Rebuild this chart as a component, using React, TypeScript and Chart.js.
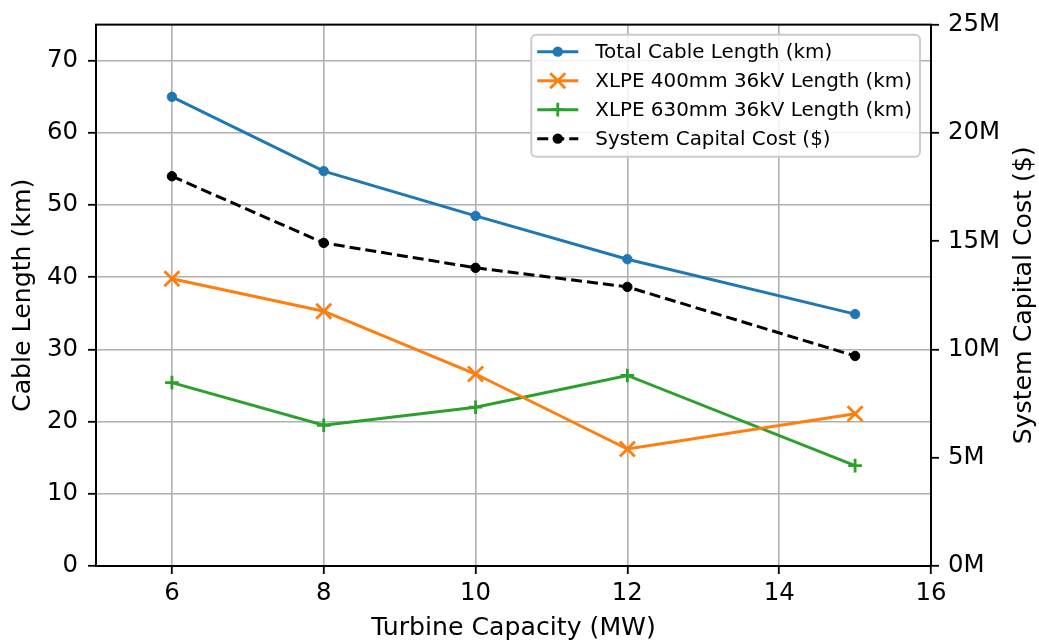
import React, { useEffect, useRef } from "react";
import { Chart, registerables } from "chart.js";

Chart.register(...registerables);

const capacities = [6, 8, 10, 12, 15];
const totalCable = [65.0, 54.7, 48.5, 42.5, 34.9];
const xlpe400 = [39.8, 35.3, 26.6, 16.2, 21.1];
const xlpe630 = [25.4, 19.5, 22.0, 26.4, 13.9];
const capitalCost = [18.0e6, 14.92e6, 13.77e6, 12.89e6, 9.7e6];

const seriesLabels = [
  "Total Cable Length (km)",
  "XLPE 400mm 36kV Length (km)",
  "XLPE 630mm 36kV Length (km)",
  "System Capital Cost ($)",
];
const xTicks = [6, 8, 10, 12, 14, 16];
const yTicks = [0, 10, 20, 30, 40, 50, 60, 70];
const y1Ticks = [0, 5e6, 10e6, 15e6, 20e6, 25e6];
const xTitle = "Turbine Capacity (MW)";
const yTitle = "Cable Length (km)";
const y1Title = "System Capital Cost ($)";

const FONT = "'DejaVu Sans', 'Liberation Sans', sans-serif";
const TICK_SIZE = 24.4;
const TITLE_SIZE = 25.2;
const LEGEND_SIZE = 19.9;

const pts = (ys: number[]) => capacities.map((c, i) => ({ x: c, y: ys[i] }));

function drawMarker(ctx: CanvasRenderingContext2D, style: string, x: number, y: number, color: string) {
  ctx.save();
  ctx.strokeStyle = color;
  ctx.fillStyle = color;
  ctx.lineWidth = 2.8;
  if (style === "circle") {
    ctx.beginPath();
    ctx.arc(x, y, 5.2, 0, Math.PI * 2);
    ctx.fill();
  } else if (style === "crossRot") {
    const r = 7.5;
    ctx.beginPath();
    ctx.moveTo(x - r, y - r);
    ctx.lineTo(x + r, y + r);
    ctx.moveTo(x - r, y + r);
    ctx.lineTo(x + r, y - r);
    ctx.stroke();
  } else if (style === "cross") {
    const r = 6.8;
    ctx.beginPath();
    ctx.moveTo(x - r, y);
    ctx.lineTo(x + r, y);
    ctx.moveTo(x, y - r);
    ctx.lineTo(x, y + r);
    ctx.stroke();
  }
  ctx.restore();
}

const overlayPlugin = {
  id: "overlay",
  afterDraw(chart: any) {
    const ctx: CanvasRenderingContext2D = chart.ctx;
    const a = chart.chartArea;
    ctx.save();
    ctx.strokeStyle = "#000";
    ctx.lineWidth = 2;
    ctx.strokeRect(a.left, a.top, a.right - a.left, a.bottom - a.top);

    ctx.fillStyle = "#000";
    ctx.font = `${TITLE_SIZE}px ${FONT}`;
    ctx.textAlign = "center";
    ctx.textBaseline = "middle";
    ctx.fillText(xTitle, (a.left + a.right) / 2, 628);
    const cy = (a.top + a.bottom) / 2;
    ctx.save();
    ctx.translate(23, cy);
    ctx.rotate(-Math.PI / 2);
    ctx.fillText(yTitle, 0, 0);
    ctx.restore();
    ctx.save();
    ctx.translate(1024, cy);
    ctx.rotate(-Math.PI / 2);
    ctx.fillText(y1Title, 0, 0);
    ctx.restore();

    ctx.font = `${LEGEND_SIZE}px ${FONT}`;
    const datasets = chart.data.datasets;
    let maxW = 0;
    datasets.forEach((d: any) => {
      maxW = Math.max(maxW, ctx.measureText(d.label).width);
    });
    const w = 64 + maxW + 8;
    const h = 122;
    const right = a.right - 11;
    const left = right - w;
    const top = a.top + 10;
    ctx.beginPath();
    (ctx as any).roundRect(left, top, w, h, 5);
    ctx.fillStyle = "rgba(255,255,255,0.85)";
    ctx.fill();
    ctx.strokeStyle = "#cccccc";
    ctx.lineWidth = 2;
    ctx.stroke();
    const rowH = 29;
    datasets.forEach((d: any, i: number) => {
      const y = top + 17 + i * rowH;
      const x0 = left + 6;
      const x1 = left + 47;
      ctx.save();
      ctx.strokeStyle = d.borderColor;
      ctx.lineWidth = 3;
      ctx.setLineDash(d.borderDash || []);
      ctx.beginPath();
      ctx.moveTo(x0, y);
      ctx.lineTo(x1, y);
      ctx.stroke();
      ctx.restore();
      drawMarker(ctx, d.pointStyle, (x0 + x1) / 2, y, d.borderColor);
      ctx.fillStyle = "#000";
      ctx.textAlign = "left";
      ctx.textBaseline = "middle";
      ctx.fillText(d.label, left + 64, y + 1);
    });
    ctx.restore();
  },
};

export default function App() {
  const ref = useRef<HTMLCanvasElement | null>(null);
  useEffect(() => {
    if (!ref.current) return;
    const tickFont = { family: FONT, size: TICK_SIZE };
    const grid = {
      color: "#b0b0b0",
      lineWidth: 1.6,
      tickColor: "#000",
      tickLength: 8,
      tickWidth: 1.8,
    };
    const chart = new Chart(ref.current, {
      type: "line",
      data: {
        datasets: [
          {
            label: seriesLabels[0],
            data: pts(totalCable),
            borderColor: "#1f77b4",
            backgroundColor: "#1f77b4",
            borderWidth: 3,
            pointStyle: "circle",
            pointRadius: 4.7,
            pointBorderWidth: 1,
            yAxisID: "y",
          },
          {
            label: seriesLabels[1],
            data: pts(xlpe400),
            borderColor: "#ff7f0e",
            backgroundColor: "#ff7f0e",
            borderWidth: 3,
            pointStyle: "crossRot",
            pointRadius: 10.6,
            pointBorderWidth: 2.8,
            yAxisID: "y",
          },
          {
            label: seriesLabels[2],
            data: pts(xlpe630),
            borderColor: "#2ca02c",
            backgroundColor: "#2ca02c",
            borderWidth: 3,
            pointStyle: "cross",
            pointRadius: 6.8,
            pointBorderWidth: 2.8,
            yAxisID: "y",
          },
          {
            label: seriesLabels[3],
            data: pts(capitalCost),
            borderColor: "#000000",
            backgroundColor: "#000000",
            borderWidth: 3,
            borderDash: [11, 5],
            pointStyle: "circle",
            pointRadius: 4.7,
            pointBorderWidth: 1,
            yAxisID: "y1",
          },
        ] as any,
      },
      options: {
        animation: false,
        responsive: true,
        maintainAspectRatio: false,
        devicePixelRatio: 1,
        layout: { padding: { top: 22, left: 0, right: 0, bottom: 0 } },
        plugins: { legend: { display: false }, tooltip: { enabled: false } },
        elements: { line: { tension: 0 } },
        scales: {
          x: {
            type: "linear",
            min: 5,
            max: 16,
            afterBuildTicks: (s: any) => {
              s.ticks = xTicks.map((v) => ({ value: v }));
            },
            afterFit: (s: any) => {
              s.height = 76;
            },
            grid,
            border: { color: "#000", width: 2 },
            ticks: { font: tickFont, color: "#000", padding: 5, maxRotation: 0 },
          },
          y: {
            type: "linear",
            position: "left",
            min: 0,
            max: 75,
            afterBuildTicks: (s: any) => {
              s.ticks = yTicks.map((v) => ({ value: v }));
            },
            afterFit: (s: any) => {
              s.width = 96;
            },
            grid,
            border: { color: "#000", width: 2 },
            ticks: { font: tickFont, color: "#000", padding: 10 },
          },
          y1: {
            type: "linear",
            position: "right",
            min: 0,
            max: 25e6,
            afterBuildTicks: (s: any) => {
              s.ticks = y1Ticks.map((v) => ({ value: v }));
            },
            afterFit: (s: any) => {
              s.width = 108;
            },
            grid: { ...grid, drawOnChartArea: false },
            border: { color: "#000", width: 2 },
            ticks: {
              font: tickFont,
              color: "#000",
              padding: 9,
              callback: (v: any) => `${Number(v) / 1e6}M`,
            },
          },
        },
      } as any,
      plugins: [overlayPlugin],
    });
    return () => chart.destroy();
  }, []);
  return (
    <div style={{ position: "fixed", left: 0, top: 0, width: 1039, height: 642, background: "#fff" }}>
      <canvas ref={ref} />
    </div>
  );
}
